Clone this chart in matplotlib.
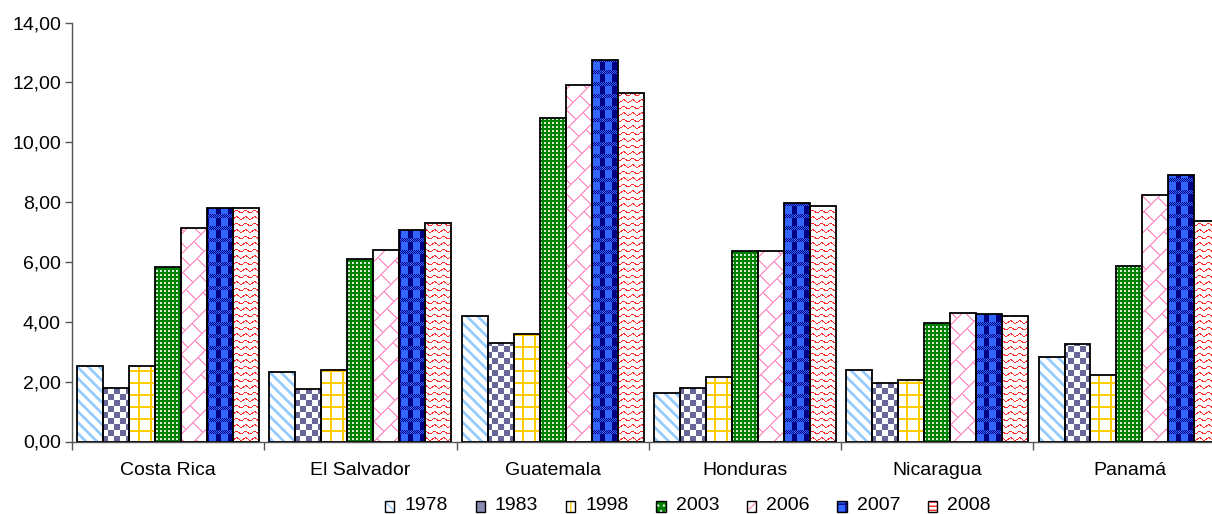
import numpy as np
import matplotlib.pyplot as plt
import matplotlib.colors as mcolors
from matplotlib.path import Path
from matplotlib.patches import PathPatch, Rectangle
from matplotlib.ticker import FixedLocator, FuncFormatter

# data
countries = ['Costa Rica', 'El Salvador', 'Guatemala', 'Honduras', 'Nicaragua', 'Panamá']
years = ['1978', '1983', '1998', '2003', '2006', '2007', '2008']

v1978 = [2.52, 2.33, 4.20, 1.62, 2.39, 2.83]
v1983 = [1.79, 1.77, 3.29, 1.78, 1.97, 3.25]
v1998 = [2.53, 2.38, 3.60, 2.15, 2.04, 2.22]
v2003 = [5.82, 6.10, 10.81, 6.35, 3.95, 5.88]
v2006 = [7.14, 6.41, 11.90, 6.35, 4.31, 8.24]
v2007 = [7.81, 7.08, 12.74, 7.98, 4.25, 8.90]
v2008 = [7.81, 7.30, 11.66, 7.87, 4.20, 7.38]
series = [v1978, v1983, v1998, v2003, v2006, v2007, v2008]

plt.rcParams['font.family'] = ['Liberation Sans', 'DejaVu Sans']
FS = 14

W_PX, H_PX = 1212, 514
fig = plt.figure(figsize=(W_PX / 100, H_PX / 100), dpi=100)
ax_rect = [72 / W_PX, 72.5 / H_PX, 1153.6 / W_PX, 419 / H_PX]
ax = fig.add_axes(ax_rect)

# pixel grid of the axes area, used to paint the fill patterns
aw = int(round(ax_rect[2] * W_PX))
ah = int(round(ax_rect[3] * H_PX))
yy, xx = np.mgrid[0:ah, 0:aw]


def rgb(c):
    return (np.array(mcolors.to_rgb(c)) * 255).astype(np.uint8)


def paint(layers, bg='white'):
    img = np.empty((ah, aw, 3), dtype=np.uint8)
    img[:] = rgb(bg)
    for mask, col in layers:
        img[mask] = rgb(col)
    return img


def pat_stripes():
    return paint([(((xx - yy) % 11) < 4, '#99CCFF')])


def pat_checker():
    return paint([(((xx // 6) + (yy // 6)) % 2 == 0, '#666699')])


def pat_grid():
    return paint([((((xx + 6) % 12) < 2) | ((yy % 12) < 2), '#FFCC00')])


def pat_dots():
    return paint([(((xx % 4) < 2) & ((yy % 4) < 2), '#D8ECD8')], bg='#008000')


def pat_brick():
    u = xx + yy
    band = (u // 20) % 2
    main = (u % 20) < 2
    cross = ((xx - yy + band * 14) % 28) < 2
    return paint([(main | cross, '#FF99CC')])


def pat_plaid():
    band = (yy % 12) < 4
    fine = band & (((xx + yy) % 2) == 0)
    cols = (~band) & ((xx % 12) < 5)
    return paint([(fine | cols, '#000080')], bg='#3366FF')


def pat_wave():
    w = (yy + 1.2 * np.sin(2 * np.pi * xx / 9.0)) % 6.5
    return paint([(w < 1.1, '#FF2A2A')])


patterns = [pat_stripes, pat_checker, pat_grid, pat_dots, pat_brick, pat_plaid, pat_wave]

n = len(years)
gap = 0.4
bw = 1.0 / (n + gap)
x = np.arange(len(countries)) + 0.5

ax.set_xlim(0, len(countries))
ax.set_ylim(0, 14)

for i, vals in enumerate(series):
    pos = x + (i - (n - 1) / 2) * bw
    bars = ax.bar(pos, vals, bw, facecolor='none', edgecolor='black',
                  linewidth=1.3, zorder=3)
    paths = [b.get_patch_transform().transform_path(b.get_path()) for b in bars]
    clip = PathPatch(Path.make_compound_path(*paths), transform=ax.transData,
                     facecolor='none', edgecolor='none')
    ax.add_patch(clip)
    im = ax.imshow(patterns[i](), extent=(0, len(countries), 0, 14), origin='upper',
                   aspect='auto', interpolation='nearest', zorder=2)
    im.set_clip_path(clip)

ax.set_xlim(0, len(countries))
ax.set_ylim(0, 14)

for s in ['top', 'right']:
    ax.spines[s].set_visible(False)
for s in ['left', 'bottom']:
    ax.spines[s].set_color('#555555')
    ax.spines[s].set_linewidth(1.0)

ax.set_yticks(np.arange(0, 15, 2))
ax.yaxis.set_major_formatter(FuncFormatter(lambda v, p: f'{v:.2f}'.replace('.', ',')))
ax.tick_params(axis='y', direction='out', length=5, width=1.0, color='#555555',
               labelsize=FS, pad=3)

ax.xaxis.set_major_locator(FixedLocator(np.arange(0, len(countries) + 1)))
ax.xaxis.set_minor_locator(FixedLocator(x))
ax.set_xticklabels([], minor=False)
ax.set_xticklabels(countries, minor=True)
ax.tick_params(axis='x', which='major', direction='out', length=6, width=1.0, color='#555555')
ax.tick_params(axis='x', which='minor', length=0, labelsize=FS, pad=15)


# legend swatches
class Swatch:
    def legend_artist(self, legend, orig_handle, fontsize, handlebox):
        x0, y0 = handlebox.xdescent, handlebox.ydescent
        w, h = handlebox.width, handlebox.height
        t = handlebox.get_transform()
        p1 = Rectangle((x0, y0), w, h, facecolor=orig_handle.get_facecolor(),
                       edgecolor=orig_handle.get_edgecolor(), hatch=orig_handle.get_hatch(),
                       linewidth=0, transform=t)
        p2 = Rectangle((x0, y0), w, h, fill=False, edgecolor='black', linewidth=1.0,
                       transform=t)
        handlebox.add_artist(p1)
        handlebox.add_artist(p2)
        return p1


swatch_styles = [
    ('white', '#99CCFF', '\\\\\\\\'),
    ('#8A8AB0', '#666699', ''),
    ('white', '#FFCC00', '||'),
    ('#008000', '#D8ECD8', '...'),
    ('white', '#FF99CC', '////'),
    ('#3366FF', '#000080', '++'),
    ('white', '#FF2020', '----'),
]
proxies = [Rectangle((0, 0), 1, 1, facecolor=fc, edgecolor=hc, hatch=h)
           for fc, hc, h in swatch_styles]
fig.legend(proxies, years, handler_map={p: Swatch() for p in proxies},
           loc='center', bbox_to_anchor=(688 / W_PX, 8 / H_PX), ncol=7, frameon=False,
           fontsize=FS, handlelength=0.48, handleheight=0.48, handletextpad=0.52,
           columnspacing=1.42, borderpad=0)

fig.savefig('out.png', dpi=100)
